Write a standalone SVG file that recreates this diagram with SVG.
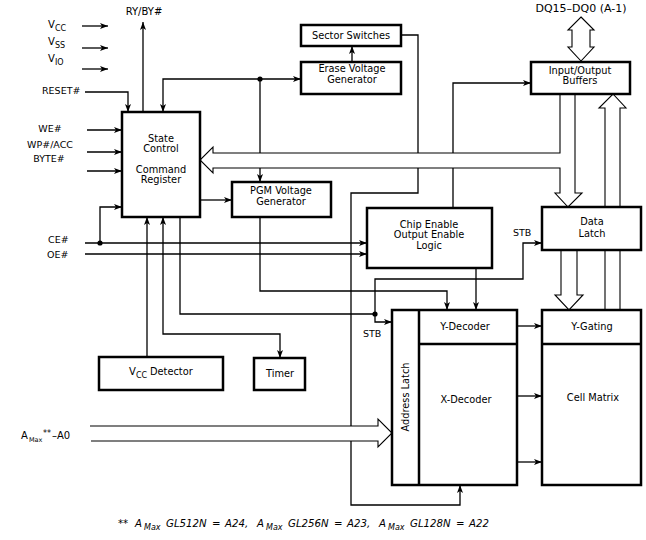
<svg xmlns="http://www.w3.org/2000/svg" width="646" height="540" viewBox="0 0 646 540">
<style>
.box{fill:#fff;stroke:#000;stroke-width:2.5}
.ln{fill:none;stroke:#000;stroke-width:1.3}
.bus{fill:#fff;stroke:#000;stroke-width:1.1;stroke-linejoin:miter}
.dot{fill:#000}
text{font-family:"DejaVu Sans",Verdana,sans-serif;fill:#000}
.t{font-size:9.8px;text-anchor:middle}
.lb{font-size:9.5px}
.lc{font-size:9.5px;text-anchor:middle}
.fn{font-size:10.2px;font-style:italic}
.sub{font-size:8px}
</style>
<defs>
<marker id="ah" markerWidth="9" markerHeight="7" refX="8" refY="3" orient="auto-start-reverse" markerUnits="userSpaceOnUse">
<path d="M0,0 L8,3 L0,6 L2,3 Z" fill="#000"/>
</marker>
</defs>
<rect width="646" height="540" fill="#fff"/>

<g id="connectors">
<path class="ln" d="M82,26 H108" marker-end="url(#ah)"/>
<path class="ln" d="M82,48 H108" marker-end="url(#ah)"/>
<path class="ln" d="M82,69 H108" marker-end="url(#ah)"/>
<path class="ln" d="M85,92 H128 V112" marker-end="url(#ah)"/>
<path class="ln" d="M143,112 V22" marker-end="url(#ah)"/>
<path class="ln" d="M87,130 H122" marker-end="url(#ah)"/>
<path class="ln" d="M87,152 H122" marker-end="url(#ah)"/>
<path class="ln" d="M87,171 H122" marker-end="url(#ah)"/>
<path class="ln" d="M260,79 H301" marker-end="url(#ah)"/>
<path class="ln" d="M260,79 H163 V112" marker-end="url(#ah)"/>
<path class="ln" d="M260,79 V182" marker-end="url(#ah)"/>
<circle class="dot" cx="260" cy="79" r="2.6"/>
<path class="ln" d="M352,62 V46" marker-end="url(#ah)"/>
<path class="ln" d="M200,200 H232" marker-end="url(#ah)"/>
<path class="ln" d="M401,35 H418 V193 H351 V505 H460 V485" marker-end="url(#ah)"/>
<path class="ln" d="M85,243 H367" marker-end="url(#ah)"/>
<path class="ln" d="M85,254 H367" marker-end="url(#ah)"/>
<path class="ln" d="M100,243 V207 H122" marker-end="url(#ah)"/>
<circle class="dot" cx="100" cy="243" r="2.6"/>
<path class="ln" d="M147,357 V217" marker-end="url(#ah)"/>
<path class="ln" d="M163,217 V334 H280 V358" marker-start="url(#ah)" marker-end="url(#ah)"/>
<path class="ln" d="M180,217 V314 H375 V322 H392" marker-end="url(#ah)"/>
<path class="ln" d="M375,314 V279 H523 V243 H542" marker-end="url(#ah)"/>
<circle class="dot" cx="375" cy="314" r="2.6"/>
<path class="ln" d="M260,217 V291 H447 V310" marker-end="url(#ah)"/>
<path class="ln" d="M476,268 V310" marker-end="url(#ah)"/>
<path class="ln" d="M453,208 V83 H531" marker-end="url(#ah)"/>
<path class="ln" d="M517,326 H542" marker-end="url(#ah)"/>
<path class="ln" d="M517,396 H542" marker-end="url(#ah)"/>
<path class="ln" d="M517,462 H542" marker-end="url(#ah)"/>
<path class="bus" d="M560,94 L560,153 L213,153 L213,147 L200,160 L213,173 L213,168 L560,168 L560,193 L555,193 L568,207 L582,193 L575,193 L575,94"/>
<path class="bus" d="M605,310 L605,108 L599,108 L613,94 L626,108 L620,108 L620,310"/>
<path class="bus" d="M561,250 L561,295 L555,295 L569,310 L583,295 L577,295 L577,250"/>
<path class="bus" d="M581,17 L594,30 L590,30 L590,47 L594,47 L581,61 L568,47 L572,47 L572,30 L568,30 Z"/>
<path class="bus" d="M90,426 L378,426 L378,419 L392,433 L378,447 L378,441 L91,441"/>
</g>

<g id="labels">
<text x="48" y="28" font-size="10">V<tspan class="sub" x="55" y="31">CC</tspan></text>
<text x="48" y="45" font-size="10">V<tspan class="sub" x="55" y="48">SS</tspan></text>
<text x="48" y="62" font-size="10">V<tspan class="sub" x="55" y="65">IO</tspan></text>
<text class="lb" x="42" y="94">RESET#</text>
<text x="144" y="15" font-size="10" text-anchor="middle">RY/BY#</text>
<text class="lc" x="50" y="132">WE#</text>
<text class="lc" x="50" y="148">WP#/ACC</text>
<text class="lc" x="49" y="162">BYTE#</text>
<text class="lb" x="48" y="243">CE#</text>
<text class="lb" x="47" y="258">OE#</text>
<text x="21" y="439" font-size="10">A<tspan x="29" y="442" font-size="6.5">Max</tspan><tspan x="43" y="436" font-size="8">**</tspan><tspan x="52" y="439">–A0</tspan></text>
<text x="581" y="12" font-size="11" text-anchor="middle">DQ15–DQ0 (A-1)</text>
<text class="lb" x="513" y="236">STB</text>
<text class="lb" x="363" y="337">STB</text>
<text class="fn" y="527"><tspan x="118">**</tspan><tspan x="135">A</tspan><tspan x="144" y="530" font-size="8">Max</tspan><tspan x="166" y="527">GL512N</tspan><tspan x="212">=</tspan><tspan x="225">A24,</tspan><tspan x="257">A</tspan><tspan x="266" y="530" font-size="8">Max</tspan><tspan x="288" y="527">GL256N</tspan><tspan x="334">=</tspan><tspan x="347">A23,</tspan><tspan x="379">A</tspan><tspan x="388" y="530" font-size="8">Max</tspan><tspan x="410" y="527">GL128N</tspan><tspan x="456">=</tspan><tspan x="469">A22</tspan></text>
</g>

<g id="state-control">
<rect class="box" x="122" y="112" width="78" height="105"/>
<text class="t" x="161" y="142">State</text>
<text class="t" x="161" y="152">Control</text>
<text class="t" x="161" y="173">Command</text>
<text class="t" x="161" y="183">Register</text>
</g>
<g id="sector-switches">
<rect class="box" x="301" y="25" width="100" height="21"/>
<text class="t" x="351" y="39">Sector Switches</text>
</g>
<g id="erase-voltage">
<rect class="box" x="301" y="62" width="100" height="32"/>
<text class="t" x="352" y="72">Erase Voltage</text>
<text class="t" x="352" y="83">Generator</text>
</g>
<g id="pgm-voltage">
<rect class="box" x="232" y="182" width="99" height="35"/>
<text class="t" x="281" y="194">PGM Voltage</text>
<text class="t" x="281" y="205">Generator</text>
</g>
<g id="io-buffers">
<rect class="box" x="531" y="62" width="99" height="32"/>
<text class="t" x="580" y="74">Input/Output</text>
<text class="t" x="580" y="84">Buffers</text>
</g>
<g id="ce-oe-logic">
<rect class="box" x="367" y="208" width="125" height="60"/>
<text class="t" x="429" y="228">Chip Enable</text>
<text class="t" x="429" y="238">Output Enable</text>
<text class="t" x="429" y="249">Logic</text>
</g>
<g id="data-latch">
<rect class="box" x="542" y="207" width="99" height="43"/>
<text class="t" x="592" y="225">Data</text>
<text class="t" x="592" y="237">Latch</text>
</g>
<g id="vcc-detector">
<rect class="box" x="99" y="357" width="124" height="33"/>
<text x="129" y="375" font-size="10">V<tspan class="sub" x="136" y="378">CC</tspan><tspan x="150" y="375" font-size="9.8">Detector</tspan></text>
</g>
<g id="timer">
<rect class="box" x="254" y="358" width="51" height="32"/>
<text class="t" x="280" y="377">Timer</text>
</g>
<g id="decoders">
<rect class="box" x="392" y="310" width="125" height="175"/>
<line class="box" x1="419" y1="310" x2="419" y2="485"/>
<line class="box" x1="419" y1="344" x2="517" y2="344"/>
<text class="t" x="465" y="330">Y-Decoder</text>
<text class="t" x="466" y="403">X-Decoder</text>
<text class="t" transform="translate(409,397) rotate(-90)">Address Latch</text>
</g>
<g id="cell-matrix">
<rect class="box" x="542" y="310" width="99" height="175"/>
<line class="box" x1="542" y1="344" x2="641" y2="344"/>
<text class="t" x="592" y="330">Y-Gating</text>
<text class="t" x="593" y="401">Cell Matrix</text>
</g>
</svg>
